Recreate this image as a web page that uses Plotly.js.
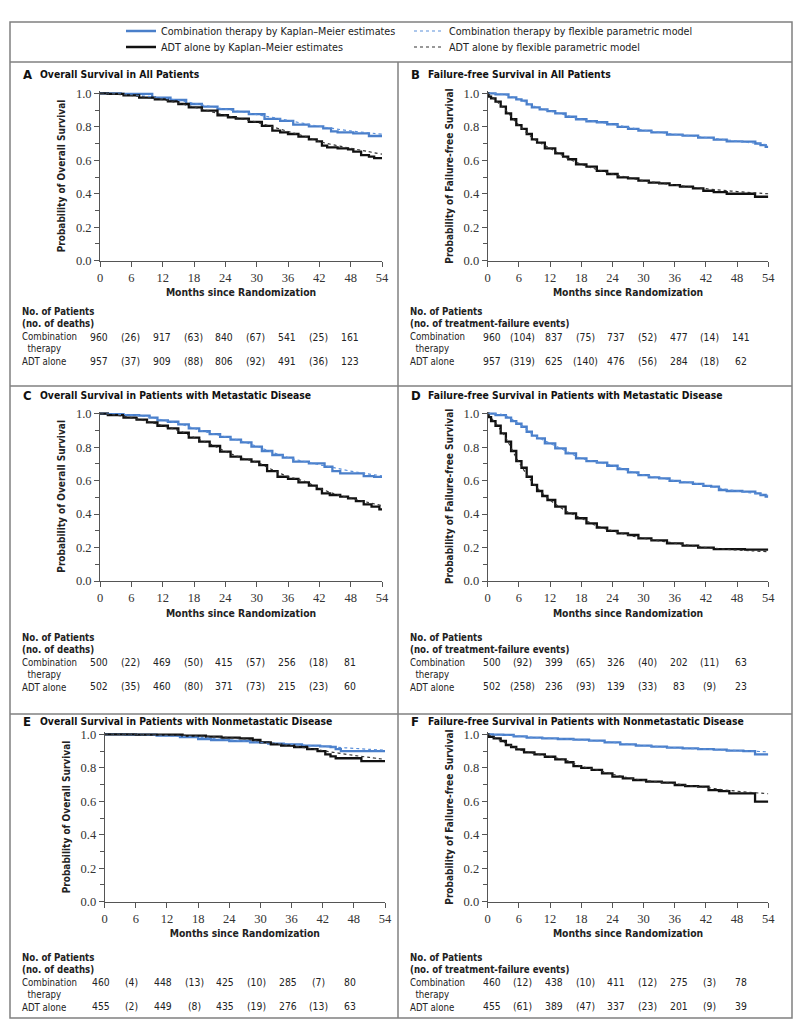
<!DOCTYPE html>
<html>
<head>
<meta charset="utf-8">
<script src="https://cdn.plot.ly/plotly-3.0.1.min.js"></script>
<style>
  html, body { margin: 0; padding: 0; background: #fff; }
  #chart { width: 800px; height: 1030px; }
</style>
</head>
<body>
<div id="chart"></div>
<script>
// ---- data ----
const RISK_MONTHS = [0, 12, 24, 36, 48];
const EVENT_MONTHS = [6, 18, 30, 42];
const MODEL_MONTHS = [0, 3, 6, 9, 12, 15, 18, 21, 24, 27, 30, 33, 36, 39, 42, 45, 48, 51, 54];

// A: overall survival, all patients
const A_COMB_T = [0, 8, 12, 15, 18, 21, 24, 27, 30, 33, 36, 38, 42, 43.5, 45, 46, 51, 52, 54];
const A_COMB_S = [1.0, 0.996, 0.974, 0.96, 0.936, 0.92, 0.906, 0.89, 0.875, 0.847, 0.835, 0.813, 0.803, 0.79, 0.773, 0.767, 0.76, 0.745, 0.745];
const A_ADT_T = [0, 3, 6, 9, 12, 14, 16, 18, 21, 24, 25, 27, 30, 32, 34, 35, 37, 39, 41, 42, 43, 44, 47, 48, 49, 51, 52, 53, 54];
const A_ADT_S = [1.0, 0.996, 0.988, 0.974, 0.964, 0.952, 0.936, 0.916, 0.896, 0.869, 0.857, 0.849, 0.829, 0.805, 0.777, 0.767, 0.757, 0.741, 0.725, 0.713, 0.687, 0.677, 0.671, 0.665, 0.651, 0.631, 0.622, 0.613, 0.613];
const A_COMB_MODEL = [1.0, 0.997, 0.99, 0.982, 0.972, 0.958, 0.94, 0.922, 0.905, 0.89, 0.873, 0.856, 0.838, 0.82, 0.803, 0.788, 0.775, 0.765, 0.756];
const A_ADT_MODEL = [1.0, 0.995, 0.987, 0.975, 0.962, 0.942, 0.918, 0.893, 0.868, 0.848, 0.827, 0.8, 0.772, 0.745, 0.712, 0.69, 0.672, 0.654, 0.636];
const A_AT_RISK_COMB = [960, 917, 840, 541, 161];
const A_EVENTS_COMB = [26, 63, 67, 25];
const A_AT_RISK_ADT = [957, 909, 806, 491, 123];
const A_EVENTS_ADT = [37, 88, 92, 36];

// B: failure-free survival, all patients
const B_COMB_T = [0, 3, 5, 6, 7, 8, 9, 11, 12, 14, 16, 18, 20, 22, 24, 26, 28, 30, 33, 36, 39, 42, 45, 47, 51, 52, 53, 54];
const B_COMB_S = [1.0, 0.994, 0.976, 0.964, 0.956, 0.934, 0.916, 0.904, 0.894, 0.88, 0.86, 0.845, 0.833, 0.827, 0.815, 0.8, 0.787, 0.777, 0.767, 0.753, 0.747, 0.735, 0.723, 0.713, 0.711, 0.70, 0.69, 0.68];
const B_ADT_T = [0, 0.3, 1, 2, 3, 4, 5, 6, 7, 8, 9, 10, 12, 14, 15, 16, 18, 20, 22, 24, 26, 28, 30, 32, 34, 36, 38, 41, 42, 45, 47, 51.4, 51.5, 54];
const B_ADT_S = [1.0, 0.98, 0.97, 0.95, 0.92, 0.88, 0.845, 0.81, 0.787, 0.757, 0.725, 0.705, 0.671, 0.641, 0.622, 0.606, 0.576, 0.562, 0.536, 0.518, 0.498, 0.492, 0.478, 0.466, 0.462, 0.452, 0.442, 0.432, 0.418, 0.41, 0.40, 0.40, 0.382, 0.382];
const B_COMB_MODEL = [1.0, 0.993, 0.965, 0.922, 0.894, 0.87, 0.845, 0.83, 0.815, 0.797, 0.78, 0.767, 0.755, 0.746, 0.736, 0.725, 0.714, 0.703, 0.692];
const B_ADT_MODEL = [1.0, 0.915, 0.81, 0.725, 0.672, 0.618, 0.576, 0.545, 0.518, 0.497, 0.478, 0.464, 0.452, 0.44, 0.43, 0.421, 0.413, 0.406, 0.40];
const B_AT_RISK_COMB = [960, 837, 737, 477, 141];
const B_EVENTS_COMB = [104, 75, 52, 14];
const B_AT_RISK_ADT = [957, 625, 476, 284, 62];
const B_EVENTS_ADT = [319, 140, 56, 18];

// C: overall survival, metastatic disease
const C_COMB_T = [0, 3, 6, 9, 10, 12, 14, 16, 18, 20, 22, 24, 26, 28, 30, 32, 34, 36, 38, 42, 44, 45, 47, 50, 51, 54];
const C_COMB_S = [1.0, 0.998, 0.992, 0.988, 0.976, 0.96, 0.952, 0.936, 0.912, 0.896, 0.878, 0.862, 0.845, 0.829, 0.803, 0.777, 0.753, 0.737, 0.713, 0.703, 0.683, 0.657, 0.643, 0.643, 0.627, 0.622];
const C_ADT_T = [0, 3, 6, 8, 10, 12, 14, 16, 18, 20, 22, 24, 26, 28, 30, 31, 33, 35, 37, 39, 41, 42, 43, 45, 47, 48, 50, 51, 53, 54];
const C_ADT_S = [1.0, 0.992, 0.976, 0.964, 0.948, 0.928, 0.912, 0.886, 0.857, 0.833, 0.807, 0.773, 0.743, 0.727, 0.713, 0.693, 0.657, 0.623, 0.61, 0.59, 0.57, 0.55, 0.524, 0.514, 0.504, 0.494, 0.478, 0.458, 0.444, 0.428];
const C_COMB_MODEL = [1.0, 0.998, 0.992, 0.982, 0.962, 0.942, 0.912, 0.885, 0.862, 0.837, 0.805, 0.77, 0.738, 0.715, 0.695, 0.676, 0.657, 0.642, 0.628];
const C_ADT_MODEL = [1.0, 0.992, 0.976, 0.955, 0.928, 0.9, 0.858, 0.82, 0.775, 0.737, 0.71, 0.665, 0.624, 0.598, 0.555, 0.52, 0.495, 0.472, 0.45];
const C_AT_RISK_COMB = [500, 469, 415, 256, 81];
const C_EVENTS_COMB = [22, 50, 57, 18];
const C_AT_RISK_ADT = [502, 460, 371, 215, 60];
const C_EVENTS_ADT = [35, 80, 73, 23];

// D: failure-free survival, metastatic disease
const D_COMB_T = [0, 3, 4, 5, 6, 7, 8, 9, 10, 12, 14, 16, 18, 20, 22, 24, 26, 28, 30, 32, 34, 36, 38, 41, 42, 44, 45, 47, 51, 52, 53, 54];
const D_COMB_S = [1.0, 0.992, 0.976, 0.956, 0.94, 0.922, 0.892, 0.869, 0.853, 0.823, 0.793, 0.763, 0.733, 0.717, 0.707, 0.689, 0.669, 0.649, 0.633, 0.619, 0.614, 0.598, 0.59, 0.58, 0.568, 0.564, 0.544, 0.538, 0.534, 0.524, 0.514, 0.504];
const D_ADT_T = [0, 0.3, 1, 2, 3, 4, 5, 6, 7, 8, 9, 10, 11, 12, 14, 16, 18, 20, 22, 24, 26, 28, 30, 33, 36, 39, 42, 45, 54];
const D_ADT_S = [1.0, 0.98, 0.956, 0.928, 0.882, 0.833, 0.777, 0.717, 0.677, 0.623, 0.574, 0.538, 0.508, 0.484, 0.444, 0.404, 0.375, 0.345, 0.319, 0.299, 0.285, 0.275, 0.255, 0.243, 0.225, 0.211, 0.199, 0.191, 0.187];
const D_COMB_MODEL = [1.0, 0.993, 0.94, 0.87, 0.823, 0.778, 0.733, 0.712, 0.69, 0.66, 0.633, 0.617, 0.6, 0.588, 0.572, 0.553, 0.538, 0.525, 0.512];
const D_ADT_MODEL = [1.0, 0.88, 0.71, 0.574, 0.484, 0.42, 0.375, 0.33, 0.3, 0.275, 0.255, 0.24, 0.226, 0.212, 0.2, 0.192, 0.185, 0.18, 0.175];
const D_AT_RISK_COMB = [500, 399, 326, 202, 63];
const D_EVENTS_COMB = [92, 65, 40, 11];
const D_AT_RISK_ADT = [502, 236, 139, 83, 23];
const D_EVENTS_ADT = [258, 93, 33, 9];

// E: overall survival, nonmetastatic disease
const E_COMB_T = [0, 8, 12, 17, 19, 22, 26, 30, 33, 36, 40, 43, 44, 45, 46, 54];
const E_COMB_S = [1.0, 0.998, 0.992, 0.984, 0.972, 0.966, 0.96, 0.952, 0.944, 0.94, 0.932, 0.928, 0.924, 0.912, 0.90, 0.90];
const E_ADT_T = [0, 12, 18, 21, 24, 28, 29, 31, 33, 35, 38, 40, 42, 43, 44, 45, 49.4, 49.5, 54];
const E_ADT_S = [1.0, 0.998, 0.992, 0.986, 0.98, 0.976, 0.966, 0.952, 0.94, 0.932, 0.924, 0.912, 0.90, 0.88, 0.868, 0.857, 0.857, 0.84, 0.84];
const E_COMB_MODEL = [1.0, 1.0, 0.999, 0.996, 0.992, 0.988, 0.983, 0.974, 0.967, 0.96, 0.952, 0.945, 0.94, 0.934, 0.928, 0.922, 0.916, 0.91, 0.905];
const E_ADT_MODEL = [1.0, 1.0, 0.999, 0.998, 0.996, 0.994, 0.991, 0.986, 0.98, 0.972, 0.958, 0.944, 0.93, 0.918, 0.902, 0.888, 0.874, 0.862, 0.85];
const E_AT_RISK_COMB = [460, 448, 425, 285, 80];
const E_EVENTS_COMB = [4, 13, 10, 7];
const E_AT_RISK_ADT = [455, 449, 435, 276, 63];
const E_EVENTS_ADT = [2, 8, 19, 13];

// F: failure-free survival, nonmetastatic disease
const F_COMB_T = [0, 2, 4, 6, 9, 12, 15, 18, 21, 24, 27, 30, 33, 36, 39, 42, 45, 47, 51.4, 51.5, 54];
const F_COMB_S = [1.0, 0.998, 0.996, 0.988, 0.98, 0.976, 0.972, 0.968, 0.962, 0.952, 0.94, 0.932, 0.926, 0.92, 0.916, 0.912, 0.908, 0.902, 0.90, 0.88, 0.88];
const F_ADT_T = [0, 0.3, 2, 3, 4, 5, 6, 8, 10, 12, 14, 16, 17, 19, 21, 23, 25, 27, 29, 32, 35, 37, 39, 42, 43, 46, 47, 51.4, 51.5, 54];
const F_ADT_S = [1.0, 0.985, 0.976, 0.96, 0.936, 0.924, 0.91, 0.892, 0.88, 0.866, 0.85, 0.833, 0.81, 0.80, 0.787, 0.767, 0.747, 0.737, 0.727, 0.717, 0.711, 0.697, 0.691, 0.687, 0.667, 0.661, 0.647, 0.647, 0.598, 0.598];
const F_COMB_MODEL = [1.0, 0.996, 0.989, 0.981, 0.976, 0.972, 0.967, 0.961, 0.952, 0.941, 0.933, 0.926, 0.92, 0.915, 0.911, 0.907, 0.903, 0.899, 0.895];
const F_ADT_MODEL = [1.0, 0.955, 0.91, 0.885, 0.866, 0.845, 0.808, 0.787, 0.762, 0.74, 0.725, 0.715, 0.705, 0.692, 0.683, 0.67, 0.66, 0.652, 0.645];
const F_AT_RISK_COMB = [460, 438, 411, 275, 78];
const F_EVENTS_COMB = [12, 10, 12, 3];
const F_AT_RISK_ADT = [455, 389, 337, 201, 39];
const F_EVENTS_ADT = [61, 47, 23, 9];

const X_TICKS = [0, 6, 12, 18, 24, 30, 36, 42, 48, 54];
const Y_TICKS = [0, 0.2, 0.4, 0.6, 0.8, 1.0];
const Y_MINOR = [0.1, 0.3, 0.5, 0.7, 0.9];
const SERIES_NAMES = [
  'Combination therapy by Kaplan\u2013Meier estimates',
  'Combination therapy by flexible parametric model',
  'ADT alone by Kaplan\u2013Meier estimates',
  'ADT alone by flexible parametric model'
];

// ---- layout helpers ----
const W = 800, H = 1030;
const fx = px => px / W;
const fy = py => 1 - py / H;

const SANS = 'DejaVu Sans Condensed, Liberation Sans Narrow, Arial Narrow, sans-serif';
const SERIF = 'Liberation Serif, DejaVu Serif, serif';
const BLUE = '#4a7fca';
const BLUE_DOT = '#5a8fda';
const BLACK = '#111111';
const FRAME = '#808080';
const YTOP = 1.012;

const panels = [
  { id: 'A', title: 'Overall Survival in All Patients', ytitle: 'Probability of Overall Survival', events: '(no. of deaths)',
    comb: [A_COMB_T, A_COMB_S, A_COMB_MODEL], adt: [A_ADT_T, A_ADT_S, A_ADT_MODEL],
    risk: [A_AT_RISK_COMB, A_EVENTS_COMB, A_AT_RISK_ADT, A_EVENTS_ADT],
    g: { col: 10, left: 100, right: 382, top: 93.3, bottom: 260.7, title: 74, rows: [337, 361], shift: -1 } },
  { id: 'B', title: 'Failure-free Survival in All Patients', ytitle: 'Probability of Failure-free Survival', events: '(no. of treatment-failure events)',
    comb: [B_COMB_T, B_COMB_S, B_COMB_MODEL], adt: [B_ADT_T, B_ADT_S, B_ADT_MODEL],
    risk: [B_AT_RISK_COMB, B_EVENTS_COMB, B_AT_RISK_ADT, B_EVENTS_ADT],
    g: { col: 398, left: 487.7, right: 768.3, top: 93.3, bottom: 260.7, title: 74, rows: [337, 361], shift: 4 } },
  { id: 'C', title: 'Overall Survival in Patients with Metastatic Disease', ytitle: 'Probability of Overall Survival', events: '(no. of deaths)',
    comb: [C_COMB_T, C_COMB_S, C_COMB_MODEL], adt: [C_ADT_T, C_ADT_S, C_ADT_MODEL],
    risk: [C_AT_RISK_COMB, C_EVENTS_COMB, C_AT_RISK_ADT, C_EVENTS_ADT],
    g: { col: 10, left: 100, right: 382, top: 413.7, bottom: 581, title: 395, rows: [662, 686], shift: -1 } },
  { id: 'D', title: 'Failure-free Survival in Patients with Metastatic Disease', ytitle: 'Probability of Failure-free Survival', events: '(no. of treatment-failure events)',
    comb: [D_COMB_T, D_COMB_S, D_COMB_MODEL], adt: [D_ADT_T, D_ADT_S, D_ADT_MODEL],
    risk: [D_AT_RISK_COMB, D_EVENTS_COMB, D_AT_RISK_ADT, D_EVENTS_ADT],
    g: { col: 398, left: 487.7, right: 768.3, top: 413.7, bottom: 581, title: 395, rows: [662, 686], shift: 4 } },
  { id: 'E', title: 'Overall Survival in Patients with Nonmetastatic Disease', ytitle: 'Probability of Overall Survival', events: '(no. of deaths)',
    comb: [E_COMB_T, E_COMB_S, E_COMB_MODEL], adt: [E_ADT_T, E_ADT_S, E_ADT_MODEL],
    risk: [E_AT_RISK_COMB, E_EVENTS_COMB, E_AT_RISK_ADT, E_EVENTS_ADT],
    g: { col: 10, left: 104.7, right: 385, top: 734.3, bottom: 901.7, title: 721, rows: [982, 1006], shift: -4 } },
  { id: 'F', title: 'Failure-free Survival in Patients with Nonmetastatic Disease', ytitle: 'Probability of Failure-free Survival', events: '(no. of treatment-failure events)',
    comb: [F_COMB_T, F_COMB_S, F_COMB_MODEL], adt: [F_ADT_T, F_ADT_S, F_ADT_MODEL],
    risk: [F_AT_RISK_COMB, F_EVENTS_COMB, F_AT_RISK_ADT, F_EVENTS_ADT],
    g: { col: 398, left: 487.7, right: 768.3, top: 734.3, bottom: 901.7, title: 721, rows: [982, 1006], shift: 4 } }
];

const traces = [];
const annotations = [];
const legendBase = {
  orientation: 'h', x: fx(121), xanchor: 'left', yanchor: 'middle',
  entrywidth: 243, entrywidthmode: 'pixels', tracegroupgap: 0,
  font: { family: SANS, size: 10.7, color: '#222' }, bgcolor: 'rgba(0,0,0,0)'
};
const layout = {
  width: W, height: H, autosize: false,
  margin: { l: 0, r: 0, t: 0, b: 0 },
  paper_bgcolor: '#fff', plot_bgcolor: '#fff',
  font: { family: SANS, size: 10.5, color: '#222' },
  showlegend: true,
  legend: Object.assign({}, legendBase, { y: fy(31) }),
  legend2: Object.assign({}, legendBase, { y: fy(47) }),
  shapes: [
    { type: 'rect', xref: 'paper', yref: 'paper', x0: fx(10), x1: fx(792), y0: fy(1018), y1: fy(22), line: { color: FRAME, width: 1.5 } },
    { type: 'line', xref: 'paper', yref: 'paper', x0: fx(10), x1: fx(792), y0: fy(62), y1: fy(62), line: { color: FRAME, width: 1.5 } },
    { type: 'line', xref: 'paper', yref: 'paper', x0: fx(10), x1: fx(792), y0: fy(386), y1: fy(386), line: { color: FRAME, width: 1.5 } },
    { type: 'line', xref: 'paper', yref: 'paper', x0: fx(10), x1: fx(792), y0: fy(714), y1: fy(714), line: { color: FRAME, width: 1.5 } },
    { type: 'line', xref: 'paper', yref: 'paper', x0: fx(398), x1: fx(398), y0: fy(1018), y1: fy(62), line: { color: FRAME, width: 1.5 } }
  ],
  annotations: annotations
};

panels.forEach((p, i) => {
  const n = i + 1;
  const suffix = n === 1 ? '' : String(n);
  const xa = 'x' + suffix;
  const ya = 'y' + suffix;
  const g = p.g;
  const first = i === 0;

  // Kaplan-Meier step lines, then the model curves on top
  traces.push({ x: p.comb[0], y: p.comb[1], xaxis: xa, yaxis: ya, type: 'scatter', mode: 'lines',
    line: { shape: 'hvh', color: BLUE, width: 2.3 }, name: SERIES_NAMES[0], legend: 'legend', legendrank: 1,
    legendgroup: 'ck', showlegend: first, hoverinfo: 'skip' });
  traces.push({ x: p.adt[0], y: p.adt[1], xaxis: xa, yaxis: ya, type: 'scatter', mode: 'lines',
    line: { shape: 'hvh', color: BLACK, width: 2.3 }, name: SERIES_NAMES[2], legend: 'legend2', legendrank: 1,
    legendgroup: 'ak', showlegend: first, hoverinfo: 'skip' });
  traces.push({ x: MODEL_MONTHS, y: p.comb[2], xaxis: xa, yaxis: ya, type: 'scatter', mode: 'lines',
    line: { shape: 'spline', color: BLUE_DOT, width: 1.2, dash: 'dot' }, name: SERIES_NAMES[1], legend: 'legend', legendrank: 2,
    legendgroup: 'cm', showlegend: first, hoverinfo: 'skip' });
  traces.push({ x: MODEL_MONTHS, y: p.adt[2], xaxis: xa, yaxis: ya, type: 'scatter', mode: 'lines',
    line: { shape: 'spline', color: '#333', width: 1.2, dash: 'dot' }, name: SERIES_NAMES[3], legend: 'legend2', legendrank: 2,
    legendgroup: 'am', showlegend: first, hoverinfo: 'skip' });

  const topPx = g.top - (YTOP - 1) * (g.bottom - g.top);
  layout['xaxis' + suffix] = {
    domain: [fx(g.left), fx(g.right)], anchor: ya, range: [0, 54],
    tickvals: X_TICKS, ticks: 'outside', ticklen: 5, tickcolor: '#555', tickwidth: 1,
    showline: true, linecolor: '#555', linewidth: 1, showgrid: false, zeroline: false,
    tickfont: { family: SERIF, size: 12.5, color: '#333' },
    title: { text: '<b>Months since Randomization</b>', standoff: 5, font: { family: SANS, size: 10.3, color: '#222' } },
    fixedrange: true
  };
  layout['yaxis' + suffix] = {
    domain: [fy(g.bottom), fy(topPx)], anchor: xa, range: [0, YTOP],
    tickvals: Y_TICKS, tickformat: '.1f',
    ticks: 'outside', ticklen: 5, tickcolor: '#555', tickwidth: 1,
    minor: { tickvals: Y_MINOR, ticks: 'outside', ticklen: 4, tickcolor: '#555' },
    showline: true, linecolor: '#555', linewidth: 1, showgrid: false, zeroline: false,
    tickfont: { family: SERIF, size: 12.5, color: '#333' },
    title: { text: '<b>' + p.ytitle + '</b>', standoff: 8, font: { family: SANS, size: 10, color: '#222' } },
    fixedrange: true
  };

  // panel letter and title
  annotations.push({ xref: 'paper', yref: 'paper', x: fx(g.col + 11), y: fy(g.title), xanchor: 'left', yanchor: 'middle',
    text: '<b>' + p.id + '</b>', showarrow: false, font: { family: SANS, size: 13, color: '#111' } });
  annotations.push({ xref: 'paper', yref: 'paper', x: fx(g.col + 28), y: fy(g.title), xanchor: 'left', yanchor: 'middle',
    text: '<b>' + p.title + '</b>', showarrow: false, font: { family: SANS, size: 10.3, color: '#111' } });

  // number-at-risk table: one block of row labels, centred on the combination row
  const r = g.rows;
  annotations.push({ xref: 'paper', yref: 'paper', x: fx(g.col + 10), y: fy(r[0]), xanchor: 'left', yanchor: 'middle',
    align: 'left', showarrow: false,
    text: '<b>No. of Patients</b><br><b>' + p.events + '</b><br>Combination<br>\u00a0\u00a0therapy<br>ADT alone',
    font: { family: SANS, size: 9.6, color: '#222' } });

  const cell = (text, month, y) => annotations.push({ xref: xa, yref: 'paper', x: month, y: fy(y), xshift: g.shift,
    xanchor: 'center', yanchor: 'middle', showarrow: false, text: text,
    font: { family: SANS, size: 10.3, color: '#222' } });
  [[p.risk[0], p.risk[1], r[0]], [p.risk[2], p.risk[3], r[1]]].forEach(([atRisk, events, y]) => {
    atRisk.forEach((v, k) => cell(String(v), RISK_MONTHS[k], y));
    events.forEach((v, k) => cell('(' + v + ')', EVENT_MONTHS[k], y));
  });
});

Plotly.newPlot('chart', traces, layout, { displayModeBar: false, staticPlot: true });
</script>
</body>
</html>
